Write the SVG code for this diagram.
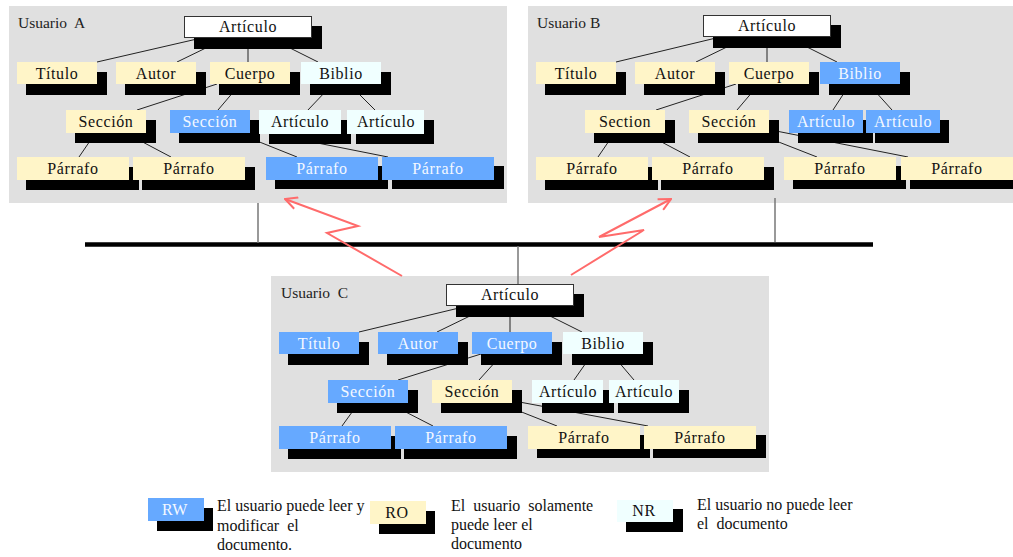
<svg xmlns="http://www.w3.org/2000/svg" width="1013" height="557" viewBox="0 0 1013 557">
  <defs>
    <style>
      .panel{fill:#e0e0e0}
      .sh{fill:#000}
      .w{fill:#fff;stroke:#333;stroke-width:1}
      .y{fill:#fff5c8}
      .c{fill:#f0ffff}
      .b{fill:#66a9ff}
      text{font-family:"Liberation Serif","Times New Roman",serif}
      .lb{font-size:16px;letter-spacing:.6px;text-anchor:middle;fill:#111}
      .lw{fill:#f4f8ff}
      .user{font-size:15.5px;fill:#222}
      .leg{font-size:16px;fill:#111}
      .edge{stroke:#222;stroke-width:1;fill:none}
      .drop{stroke:#777;stroke-width:1.5;fill:none}
      .bolt{stroke:#ff6b6b;stroke-width:2;fill:none;stroke-linejoin:miter}
    </style>
    <marker id="arr" viewBox="0 0 14 14" refX="13" refY="7" markerWidth="14" markerHeight="14" markerUnits="userSpaceOnUse" orient="auto">
      <path d="M1,1 L13,7 L1,13" fill="none" stroke="#ff6b6b" stroke-width="2"/>
    </marker>
  </defs>

  <!-- user workspaces -->
  <g id="panels">
    <rect class="panel" x="9" y="6" width="498" height="197"/>
    <rect class="panel" x="528" y="6" width="490" height="197"/>
    <rect class="panel" x="271" y="276" width="498" height="196"/>
    <text class="user" x="18" y="28" xml:space="preserve">Usuario  A</text>
    <text class="user" x="537" y="28">Usuario B</text>
    <text class="user" x="281" y="298" xml:space="preserve">Usuario  C</text>
  </g>

  <!-- network bus and drops -->
  <g id="network">
    <line x1="85" y1="244.5" x2="873" y2="244.5" stroke="#000" stroke-width="4.5"/>
    <line class="drop" x1="258" y1="203" x2="258" y2="243"/>
    <line class="drop" x1="775" y1="198" x2="775" y2="242"/>
    <line class="drop" x1="518" y1="246" x2="518" y2="284"/>
  </g>

  <!-- tree edges -->
  <g id="connectors">
    <!-- A -->
    <line class="edge" x1="197" y1="39" x2="97" y2="62"/>
    <line class="edge" x1="212" y1="45" x2="177" y2="62"/>
    <line class="edge" x1="248" y1="40" x2="248" y2="62"/>
    <line class="edge" x1="282" y1="44" x2="318" y2="62"/>
    <line class="edge" x1="217" y1="84" x2="137" y2="110"/>
    <line class="edge" x1="235" y1="90" x2="218" y2="110"/>
    <line class="edge" x1="327" y1="90" x2="307" y2="111"/>
    <line class="edge" x1="355" y1="90" x2="375" y2="110"/>
    <line class="edge" x1="92" y1="138" x2="79" y2="157"/>
    <line class="edge" x1="135" y1="138" x2="171" y2="157"/>
    <line class="edge" x1="252" y1="139" x2="297" y2="157"/>
    <line class="edge" x1="252" y1="130" x2="388" y2="157"/>
    <!-- B -->
    <line class="edge" x1="716" y1="38" x2="616" y2="62"/>
    <line class="edge" x1="731" y1="45" x2="696" y2="62"/>
    <line class="edge" x1="767" y1="39" x2="767" y2="62"/>
    <line class="edge" x1="801" y1="44" x2="837" y2="62"/>
    <line class="edge" x1="736" y1="84" x2="656" y2="110"/>
    <line class="edge" x1="754" y1="90" x2="737" y2="110"/>
    <line class="edge" x1="846" y1="90" x2="833" y2="110"/>
    <line class="edge" x1="874" y1="90" x2="892" y2="110"/>
    <line class="edge" x1="611" y1="138" x2="598" y2="157"/>
    <line class="edge" x1="654" y1="138" x2="690" y2="157"/>
    <line class="edge" x1="771" y1="139" x2="817" y2="157"/>
    <line class="edge" x1="771" y1="130" x2="908" y2="157"/>
    <!-- C -->
    <line class="edge" x1="459" y1="308" x2="359" y2="332"/>
    <line class="edge" x1="474" y1="314" x2="437" y2="332"/>
    <line class="edge" x1="510" y1="309" x2="510" y2="332"/>
    <line class="edge" x1="544" y1="313" x2="582" y2="332"/>
    <line class="edge" x1="481" y1="354" x2="398" y2="380"/>
    <line class="edge" x1="497" y1="360" x2="479" y2="380"/>
    <line class="edge" x1="588" y1="360" x2="574" y2="380"/>
    <line class="edge" x1="617" y1="360" x2="634" y2="380"/>
    <line class="edge" x1="355" y1="408" x2="342" y2="426"/>
    <line class="edge" x1="398" y1="408" x2="433" y2="426"/>
    <line class="edge" x1="514" y1="409" x2="557" y2="426"/>
    <line class="edge" x1="514" y1="401" x2="648" y2="426"/>
  </g>

  <!-- Usuario A document tree -->
  <g id="a-articulo"><rect class="sh" x="194" y="26" width="128" height="23"/><rect class="w" x="184.5" y="16.5" width="127" height="21"/><text class="lb" x="248" y="32">Artículo</text></g>
  <g id="a-titulo"><rect class="sh" x="26" y="72" width="81" height="23"/><rect class="y" x="17" y="62" width="80" height="22"/><text class="lb" x="57" y="79">Título</text></g>
  <g id="a-autor"><rect class="sh" x="125" y="72" width="81" height="23"/><rect class="y" x="116" y="62" width="80" height="22"/><text class="lb" x="156" y="79">Autor</text></g>
  <g id="a-cuerpo"><rect class="sh" x="219" y="72" width="81" height="23"/><rect class="y" x="210" y="62" width="80" height="22"/><text class="lb" x="250" y="79">Cuerpo</text></g>
  <g id="a-biblio"><rect class="sh" x="310" y="72" width="81" height="23"/><rect class="c" x="301" y="62" width="80" height="22"/><text class="lb" x="341" y="79">Biblio</text></g>
  <g id="a-seccion-1"><rect class="sh" x="75" y="120" width="81" height="23"/><rect class="y" x="66" y="110" width="80" height="23"/><text class="lb" x="106" y="127">Sección</text></g>
  <g id="a-seccion-2"><rect class="sh" x="179" y="120" width="81" height="23"/><rect class="b" x="170" y="110" width="80" height="23"/><text class="lb lw" x="210" y="127">Sección</text></g>
  <g id="a-articulo-1"><rect class="sh" x="269" y="120" width="82" height="24"/><rect class="c" x="259" y="110" width="82" height="24"/><text class="lb" x="300" y="127">Artículo</text></g>
  <g id="a-articulo-2"><rect class="sh" x="356" y="120" width="78" height="24"/><rect class="c" x="347" y="110" width="77" height="24"/><text class="lb" x="386" y="127">Artículo</text></g>
  <g id="a-parrafo-1"><rect class="sh" x="26" y="167" width="113" height="23"/><rect class="y" x="17" y="157" width="112" height="23"/><text class="lb" x="73" y="174">Párrafo</text></g>
  <g id="a-parrafo-2"><rect class="sh" x="142" y="167" width="113" height="23"/><rect class="y" x="133" y="157" width="112" height="23"/><text class="lb" x="189" y="174">Párrafo</text></g>
  <g id="a-parrafo-3"><rect class="sh" x="275" y="166" width="113" height="23"/><rect class="b" x="266" y="157" width="112" height="23"/><text class="lb lw" x="322" y="174">Párrafo</text></g>
  <g id="a-parrafo-4"><rect class="sh" x="392" y="166" width="112" height="23"/><rect class="b" x="382" y="157" width="112" height="23"/><text class="lb lw" x="438" y="174">Párrafo</text></g>

  <!-- Usuario B document tree -->
  <g id="b-articulo"><rect class="sh" x="713" y="25" width="128" height="23"/><rect class="w" x="703.5" y="15.5" width="127" height="21"/><text class="lb" x="767" y="31">Artículo</text></g>
  <g id="b-titulo"><rect class="sh" x="545" y="72" width="81" height="23"/><rect class="y" x="536" y="62" width="80" height="22"/><text class="lb" x="576" y="79">Título</text></g>
  <g id="b-autor"><rect class="sh" x="644" y="72" width="81" height="23"/><rect class="y" x="635" y="62" width="80" height="22"/><text class="lb" x="675" y="79">Autor</text></g>
  <g id="b-cuerpo"><rect class="sh" x="738" y="72" width="81" height="23"/><rect class="y" x="729" y="62" width="80" height="22"/><text class="lb" x="769" y="79">Cuerpo</text></g>
  <g id="b-biblio"><rect class="sh" x="829" y="72" width="81" height="23"/><rect class="b" x="820" y="62" width="80" height="22"/><text class="lb lw" x="860" y="79">Biblio</text></g>
  <g id="b-section"><rect class="sh" x="594" y="120" width="81" height="23"/><rect class="y" x="585" y="110" width="80" height="23"/><text class="lb" x="625" y="127">Section</text></g>
  <g id="b-seccion"><rect class="sh" x="698" y="120" width="81" height="23"/><rect class="y" x="689" y="110" width="80" height="23"/><text class="lb" x="729" y="127">Sección</text></g>
  <g id="b-articulo-1"><rect class="sh" x="798" y="120" width="75" height="23"/><rect class="b" x="789" y="110" width="74" height="23"/><text class="lb lw" x="826" y="127">Artículo</text></g>
  <g id="b-articulo-2"><rect class="sh" x="875" y="120" width="74" height="23"/><rect class="b" x="866" y="110" width="74" height="23"/><text class="lb lw" x="903" y="127">Artículo</text></g>
  <g id="b-parrafo-1"><rect class="sh" x="545" y="167" width="113" height="23"/><rect class="y" x="536" y="157" width="112" height="23"/><text class="lb" x="592" y="174">Párrafo</text></g>
  <g id="b-parrafo-2"><rect class="sh" x="661" y="167" width="113" height="23"/><rect class="y" x="652" y="157" width="112" height="23"/><text class="lb" x="708" y="174">Párrafo</text></g>
  <g id="b-parrafo-3"><rect class="sh" x="793" y="166" width="113" height="23"/><rect class="y" x="784" y="157" width="112" height="23"/><text class="lb" x="840" y="174">Párrafo</text></g>
  <g id="b-parrafo-4"><rect class="sh" x="910" y="166" width="113" height="23"/><rect class="y" x="901" y="157" width="112" height="23"/><text class="lb" x="957" y="174">Párrafo</text></g>

  <!-- Usuario C document tree -->
  <g id="c-articulo"><rect class="sh" x="456" y="294" width="128" height="23"/><rect class="w" x="446.5" y="284.5" width="127" height="21"/><text class="lb" x="510" y="300">Artículo</text></g>
  <g id="c-titulo"><rect class="sh" x="288" y="342" width="81" height="23"/><rect class="b" x="279" y="332" width="80" height="22"/><text class="lb lw" x="319" y="349">Título</text></g>
  <g id="c-autor"><rect class="sh" x="387" y="342" width="81" height="23"/><rect class="b" x="378" y="332" width="80" height="22"/><text class="lb lw" x="418" y="349">Autor</text></g>
  <g id="c-cuerpo"><rect class="sh" x="481" y="342" width="81" height="23"/><rect class="b" x="472" y="332" width="80" height="22"/><text class="lb lw" x="512" y="349">Cuerpo</text></g>
  <g id="c-biblio"><rect class="sh" x="572" y="342" width="81" height="23"/><rect class="c" x="563" y="332" width="80" height="22"/><text class="lb" x="603" y="349">Biblio</text></g>
  <g id="c-seccion-1"><rect class="sh" x="337" y="390" width="81" height="23"/><rect class="b" x="328" y="380" width="80" height="23"/><text class="lb lw" x="368" y="397">Sección</text></g>
  <g id="c-seccion-2"><rect class="sh" x="441" y="390" width="81" height="23"/><rect class="y" x="432" y="380" width="80" height="23"/><text class="lb" x="472" y="397">Sección</text></g>
  <g id="c-articulo-1"><rect class="sh" x="542" y="390" width="72" height="23"/><rect class="c" x="532" y="380" width="71" height="23"/><text class="lb" x="568" y="397">Artículo</text></g>
  <g id="c-articulo-2"><rect class="sh" x="618" y="390" width="71" height="23"/><rect class="c" x="609" y="380" width="70" height="23"/><text class="lb" x="644" y="397">Artículo</text></g>
  <g id="c-parrafo-1"><rect class="sh" x="288" y="436" width="113" height="23"/><rect class="b" x="279" y="426" width="112" height="23"/><text class="lb lw" x="335" y="443">Párrafo</text></g>
  <g id="c-parrafo-2"><rect class="sh" x="404" y="436" width="113" height="23"/><rect class="b" x="395" y="426" width="112" height="23"/><text class="lb lw" x="451" y="443">Párrafo</text></g>
  <g id="c-parrafo-3"><rect class="sh" x="537" y="435" width="113" height="23"/><rect class="y" x="528" y="426" width="112" height="23"/><text class="lb" x="584" y="443">Párrafo</text></g>
  <g id="c-parrafo-4"><rect class="sh" x="653" y="435" width="113" height="23"/><rect class="y" x="644" y="426" width="112" height="23"/><text class="lb" x="700" y="443">Párrafo</text></g>

  <!-- replication links from C to A and B -->
  <g id="links">
    <polyline class="bolt" points="402,276 327,233 358,226 285,199" marker-end="url(#arr)"/>
    <polyline class="bolt" points="571,275 644,230 599,237 671,199" marker-end="url(#arr)"/>
  </g>

  <!-- legend -->
  <g id="legend-rw">
    <rect class="sh" x="157" y="508" width="56" height="23"/><rect class="b" x="148" y="498" width="56" height="23"/>
    <text class="lb lw" x="175" y="515">RW</text>
    <text class="leg" x="217" y="511">El usuario puede leer y</text>
    <text class="leg" x="217" y="531" xml:space="preserve">modificar  el</text>
    <text class="leg" x="217" y="550">documento.</text>
  </g>
  <g id="legend-ro">
    <rect class="sh" x="379" y="511" width="56" height="23"/><rect class="y" x="370" y="501" width="56" height="23"/>
    <text class="lb" x="397" y="518">RO</text>
    <text class="leg" x="451" y="511" xml:space="preserve">El  usuario  solamente</text>
    <text class="leg" x="451" y="530">puede leer el</text>
    <text class="leg" x="451" y="549">documento</text>
  </g>
  <g id="legend-nr">
    <rect class="sh" x="626" y="509" width="57" height="23"/><rect class="c" x="617" y="500" width="56" height="22"/>
    <text class="lb" x="644" y="516">NR</text>
    <text class="leg" x="697" y="510">El usuario no puede leer</text>
    <text class="leg" x="697" y="529" xml:space="preserve">el  documento</text>
  </g>
</svg>
